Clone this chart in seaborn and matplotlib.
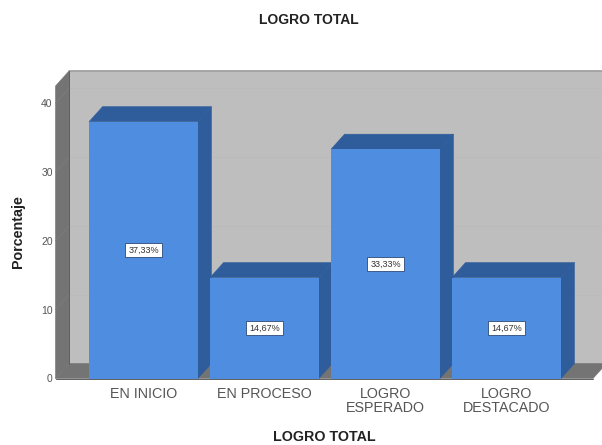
import matplotlib
matplotlib.use("Agg")
import matplotlib.pyplot as plt
import seaborn as sns
from matplotlib.patches import Polygon

categorias = ["EN INICIO", "EN PROCESO", "LOGRO\nESPERADO", "LOGRO\nDESTACADO"]
porcentajes = [37.33, 14.67, 33.33, 14.67]
etiquetas = ["37,33%", "14,67%", "33,33%", "14,67%"]
ticks_y = [0, 10, 20, 30, 40]

AZUL = "#4F8DE0"
AZUL_OSC = "#2F5D9B"
PARED = "#BEBEBE"
GRIS_OSC = "#747474"
ANCHO, ALTO = 602, 445

sns.set_theme(style="white")
plt.rcParams["font.family"] = ["Liberation Sans", "DejaVu Sans"]

fig = plt.figure(figsize=(ANCHO / 100, ALTO / 100), dpi=100)
# ejes = cara frontal del grafico, en pixeles de la imagen
izq, der, abajo, arriba = 55.5, 593, 378.5, 86
ax = fig.add_axes([izq / ANCHO, 1 - abajo / ALTO, (der - izq) / ANCHO, (abajo - arriba) / ALTO])

sns.barplot(x=categorias, y=porcentajes, color=AZUL, saturation=1, width=0.9, ax=ax, zorder=5)

px_x = 121.0                  # pixeles por categoria
px_y = 6.88                   # pixeles por punto porcentual
ax.set_xlim(-(143.5 - izq) / px_x, (der - 143.5) / px_x)
ax.set_ylim(0, (abajo - arriba) / px_y)
ax.patch.set_visible(False)
sns.despine(ax=ax, left=True, bottom=True, top=True, right=True)

# profundidad del efecto 3D en unidades de datos
dx = 13.5 / px_x
dy = 15.0 / px_y
x0, x1 = ax.get_xlim()
y0, y1 = ax.get_ylim()


def poligono(puntos, color, z):
    ax.add_patch(Polygon(puntos, closed=True, facecolor=color, edgecolor=color,
                         linewidth=0.4, clip_on=False, zorder=z))


# pared del fondo, pared izquierda y suelo
poligono([(x0 + dx, y0 + dy), (x1 + dx, y0 + dy), (x1 + dx, y1 + dy), (x0 + dx, y1 + dy)], PARED, 1)
poligono([(x0, y0), (x0 + dx, y0 + dy), (x0 + dx, y1 + dy), (x0, y1)], GRIS_OSC, 2)
poligono([(x0, y0), (x1, y0), (x1 + dx, y0 + dy), (x0 + dx, y0 + dy)], GRIS_OSC, 2)
ax.plot([x0 + dx, x1 + dx], [y1 + dy, y1 + dy], color="#9A9A9A", lw=1.2, clip_on=False, zorder=3)
ax.plot([x0 + dx, x0 + dx], [y0 + dy, y1 + dy], color="#5E5E5E", lw=0.7, clip_on=False, zorder=3)
ax.plot([x0, x1], [y0, y0], color="#5E5E5E", lw=0.7, clip_on=False, zorder=3)

# rejilla tenue sobre las paredes
for t in ticks_y[1:]:
    ax.plot([x0 + dx, x1 + dx], [t + dy, t + dy], color="#BABABA", lw=0.7, clip_on=False, zorder=1.5)
    ax.plot([x0, x0 + dx], [t, t + dy], color="#7E7E7E", lw=0.5, clip_on=False, zorder=2.5)

# caras superior y lateral de cada barra
for barra, etiqueta in zip(ax.patches[:len(categorias)], etiquetas):
    a = barra.get_x()
    b = a + barra.get_width()
    h = barra.get_height()
    barra.set_edgecolor("none")
    poligono([(a, h), (b, h), (b + dx, h + dy), (a + dx, h + dy)], AZUL_OSC, 4)
    poligono([(b, 0), (b + dx, dy), (b + dx, h + dy), (b, h)], AZUL_OSC, 4)
    ax.text(a + barra.get_width() / 2, h / 2, etiqueta, ha="center", va="center",
            fontsize=6.5, color="#333333", zorder=6,
            bbox=dict(boxstyle="square,pad=0.3", facecolor="white", edgecolor="#2B4A78", linewidth=0.6))

ax.set_yticks(ticks_y)
ax.set_yticklabels([str(t) for t in ticks_y], fontsize=7.5, color="#555555")
ax.set_xticks(range(len(categorias)))
ax.set_xticklabels(categorias, fontsize=10.3, color="#555555", linespacing=1.0)
ax.tick_params(axis="both", length=0)
ax.tick_params(axis="x", pad=6)
ax.tick_params(axis="y", pad=2)

fig.text(309 / ANCHO, 1 - 20 / ALTO, "LOGRO TOTAL", ha="center", va="center",
         fontsize=10, fontweight="bold", color="#222222")
fig.text(324 / ANCHO, 1 - 437 / ALTO, "LOGRO TOTAL", ha="center", va="center",
         fontsize=10.3, fontweight="bold", color="#222222")
fig.text(18 / ANCHO, 1 - 232 / ALTO, "Porcentaje", rotation=90, ha="center", va="center",
         fontsize=10.3, fontweight="bold", color="#222222")

fig.savefig("out.png", dpi=100, facecolor="white")
